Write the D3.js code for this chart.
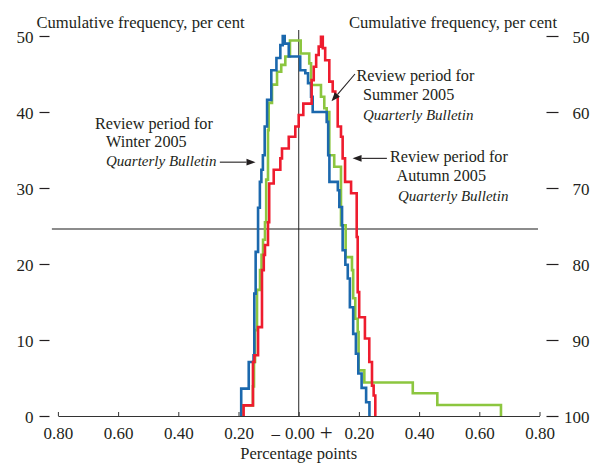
<!DOCTYPE html>
<html>
<head>
<meta charset="utf-8">
<script src="https://cdn.jsdelivr.net/npm/d3@7/dist/d3.min.js"></script>
<style>
  html, body { margin: 0; padding: 0; background: #ffffff; }
  svg { display: block; }
  text { font-family: "Liberation Serif", "Times New Roman", serif; fill: #231f20; }
</style>
</head>
<body>
<svg id="chart" width="593" height="463"></svg>
<script>
// Folded cumulative frequency distributions (percentage points).
// Left half rises to the median, right half falls away from it.
const xTicks = [-0.8, -0.6, -0.4, -0.2, 0, 0.2, 0.4, 0.6, 0.8];
const yTicksLeft = [0, 10, 20, 30, 40, 50];
const yTicksRight = [50, 60, 70, 80, 90, 100];
const referenceLevel = 24.6;

// Each series: at x[i] the curve steps (vertically) to y[i].
const winterX = [-0.191, -0.166, -0.150, -0.1475, -0.143, -0.135, -0.129, -0.124, -0.119, -0.113,
                 -0.105, -0.091, -0.074, -0.061, -0.053, -0.0465, -0.033, 0.005, 0.022, 0.031,
                 0.041, 0.0465, 0.093, 0.098, 0.102, 0.130, 0.135, 0.144, 0.146, 0.155,
                 0.163, 0.170, 0.181, 0.190, 0.198, 0.209, 0.224, 0.235];
const winterY = [3.6, 7.1, 8.0, 16.1, 21.6, 27.4, 30.8, 32.4, 34.3, 38.1,
                 41.6, 45.5, 47.1, 48.8, 50.0, 49.0, 47.3, 45.5, 45.1, 43.8,
                 42.0, 40.0, 38.7, 34.3, 30.8, 29.7, 27.5, 25.1, 21.8, 19.9,
                 18.1, 14.3, 10.8, 8.2, 5.6, 3.7, 1.8, 0];

const summerX = [-0.190, -0.152, -0.1485, -0.145, -0.1385, -0.1285, -0.1235, -0.1185, -0.112, -0.108,
                 -0.102, -0.0997, -0.0887, -0.072, -0.058, -0.0445, -0.029, 0.0066, 0.035, 0.041,
                 0.074, 0.085, 0.093, 0.1017, 0.118, 0.1405, 0.156, 0.177, 0.181, 0.188,
                 0.196, 0.199, 0.218, 0.379, 0.4605, 0.672];
const summerY = [1.4, 3.9, 7.1, 11.3, 16.6, 19.2, 21.2, 23.2, 25.5, 31.1,
                 37.6, 41.2, 43.6, 45.3, 46.2, 47.3, 49.4, 47.7, 46.4, 43.55,
                 42.0, 40.5, 40.0, 34.3, 32.8, 25.1, 20.9, 19.2, 15.5, 12.8,
                 11.05, 6.0, 4.4, 3.0, 1.45, 0];

const autumnX = [-0.183, -0.152, -0.147, -0.135, -0.122, -0.116, -0.112, -0.102, -0.098, -0.083,
                 -0.061, -0.0555, -0.033, -0.0113, 0.0, 0.0153, 0.043, 0.050, 0.058, 0.0664,
                 0.074, 0.080, 0.088, 0.1017, 0.113, 0.1216, 0.1296, 0.1405, 0.146, 0.154,
                 0.174, 0.1927, 0.196, 0.201, 0.220, 0.2345, 0.2435, 0.249, 0.2545];
const autumnY = [1.4, 7.1, 8.0, 11.7, 19.2, 21.2, 22.5, 25.5, 30.6, 32.4,
                 33.9, 35.2, 36.75, 38.1, 39.6, 41.1, 44.2, 45.96, 47.5, 48.6,
                 49.9, 48.4, 46.8, 44.0, 42.7, 42.0, 38.1, 36.75, 33.9, 30.8,
                 29.3, 23.55, 16.3, 13.0, 10.2, 7.1, 4.0, 2.7, 0];

const series = [
  { name: "Summer 2005", xs: summerX, ys: summerY, color: "#8cc63f" },
  { name: "Winter 2005", xs: winterX, ys: winterY, color: "#1b68ad" },
  { name: "Autumn 2005", xs: autumnX, ys: autumnY, color: "#ee1c2e" }
];

const svg = d3.select("#chart");
const x = d3.scaleLinear().domain([-0.8, 0.8]).range([57.9, 539.5]);
const y = d3.scaleLinear().domain([0, 50]).range([416, 36]);
const yRight = d3.scaleLinear().domain([100, 50]).range([416, 36]);

// x axis along the bottom, ticks pointing up
const xAxis = d3.axisBottom(x)
  .tickValues(xTicks)
  .tickSizeInner(-4)
  .tickSizeOuter(0)
  .tickPadding(11)
  .tickFormat(d => Math.abs(d).toFixed(2));
const gx = svg.append("g").attr("transform", `translate(0,${y(0)})`).call(xAxis);
gx.select(".domain").attr("stroke", "#333").attr("stroke-width", 1.1);
gx.selectAll(".tick line").attr("stroke", "#333");
gx.selectAll(".tick text").attr("font-size", 17).attr("font-family", "Liberation Serif").attr("fill", "#231f20");

// zero label carries the sign markers either side
gx.selectAll(".tick text").filter(d => d === 0).each(function () {
  const t = d3.select(this).text("");
  t.append("tspan").text("–");
  t.append("tspan").attr("dx", 5).text("0.00");
  t.append("tspan").attr("dx", 5).attr("font-size", 23).attr("dy", "0.05em").text("+");
}).attr("x", 3);

svg.append("text").attr("x", x(0)).attr("y", 458.5).attr("text-anchor", "middle")
  .attr("font-size", 16.5).text("Percentage points");

// left axis: detached dashes with labels
const yAxisL = d3.axisLeft(y).tickValues(yTicksLeft).tickSizeInner(10).tickSizeOuter(0).tickPadding(6);
const gyl = svg.append("g").attr("transform", "translate(49.5,0)").call(yAxisL);
gyl.select(".domain").remove();
gyl.selectAll(".tick line").attr("stroke", "#231f20").attr("stroke-width", 1.2);
gyl.selectAll(".tick text").attr("font-size", 17).attr("font-family", "Liberation Serif")
  .attr("fill", "#231f20").attr("dy", "0.36em");

// right axis, read downwards from 50 to 100
const yAxisR = d3.axisRight(yRight).tickValues(yTicksRight).tickSizeInner(12).tickSizeOuter(0).tickPadding(6);
const gyr = svg.append("g").attr("transform", "translate(546.5,0)").call(yAxisR);
gyr.select(".domain").remove();
gyr.selectAll(".tick line").attr("stroke", "#231f20").attr("stroke-width", 1.2);
gyr.selectAll(".tick text").attr("font-size", 17).attr("font-family", "Liberation Serif")
  .attr("fill", "#231f20").attr("text-anchor", "end").attr("x", 43).attr("dy", "0.36em");

// axis titles
svg.append("text").attr("x", 36.5).attr("y", 28).attr("font-size", 16.6)
  .text("Cumulative frequency, per cent");
svg.append("text").attr("x", 557).attr("y", 28).attr("text-anchor", "end").attr("font-size", 16.6)
  .text("Cumulative frequency, per cent");

// zero line and reference level
svg.append("line")
  .attr("x1", x(0)).attr("x2", x(0)).attr("y1", y(50.8)).attr("y2", y(0))
  .attr("stroke", "#3a3a3a").attr("stroke-width", 1.1);
svg.append("line")
  .attr("x1", x(-0.82)).attr("x2", x(0.795)).attr("y1", y(referenceLevel)).attr("y2", y(referenceLevel))
  .attr("stroke", "#1a1a1a").attr("stroke-width", 1.1);

// step curves
const line = d3.line().x(d => x(d[0])).y(d => y(d[1])).curve(d3.curveStepAfter);
series.forEach(s => {
  const pts = [[s.xs[0], 0]].concat(s.xs.map((v, i) => [v, s.ys[i]]));
  svg.append("path")
    .datum(pts)
    .attr("d", line)
    .attr("fill", "none")
    .attr("stroke", s.color)
    .attr("stroke-width", 2.6)
    .attr("stroke-linejoin", "miter");
});

// annotations
function arrow(x1, y1, x2, y2) {
  const ang = Math.atan2(y2 - y1, x2 - x1);
  const len = 9, half = 3.4;
  const bx = x2 - len * Math.cos(ang), by = y2 - len * Math.sin(ang);
  svg.append("line").attr("x1", x1).attr("y1", y1).attr("x2", bx).attr("y2", by)
    .attr("stroke", "#231f20").attr("stroke-width", 1.1);
  const px = -Math.sin(ang) * half, py = Math.cos(ang) * half;
  svg.append("path")
    .attr("d", `M${x2},${y2}L${bx + px},${by + py}L${bx - px},${by - py}Z`)
    .attr("fill", "#231f20");
}

function label(lines) {
  lines.forEach(l => {
    svg.append("text").attr("x", l.x).attr("y", l.y)
      .attr("font-size", l.italic ? 15 : 16.2)
      .attr("font-style", l.italic ? "italic" : "normal").text(l.t);
  });
}

label([
  { t: "Review period for", x: 95, y: 128.5 },
  { t: "Winter 2005", x: 106, y: 147 },
  { t: "Quarterly Bulletin", x: 106, y: 165.5, italic: true }
]);
arrow(x(-0.262), y(33.4), x(-0.1435), y(33.4));

label([
  { t: "Review period for", x: 356.5, y: 80.5 },
  { t: "Summer 2005", x: 363, y: 100 },
  { t: "Quarterly Bulletin", x: 363, y: 119.5, italic: true }
]);
arrow(x(0.187), y(45.0), x(0.109), y(41.4));

label([
  { t: "Review period for", x: 390, y: 162 },
  { t: "Autumn 2005", x: 396.5, y: 181 },
  { t: "Quarterly Bulletin", x: 398, y: 200.5, italic: true }
]);
arrow(x(0.293), y(33.9), x(0.179), y(33.9));
</script>
</body>
</html>
